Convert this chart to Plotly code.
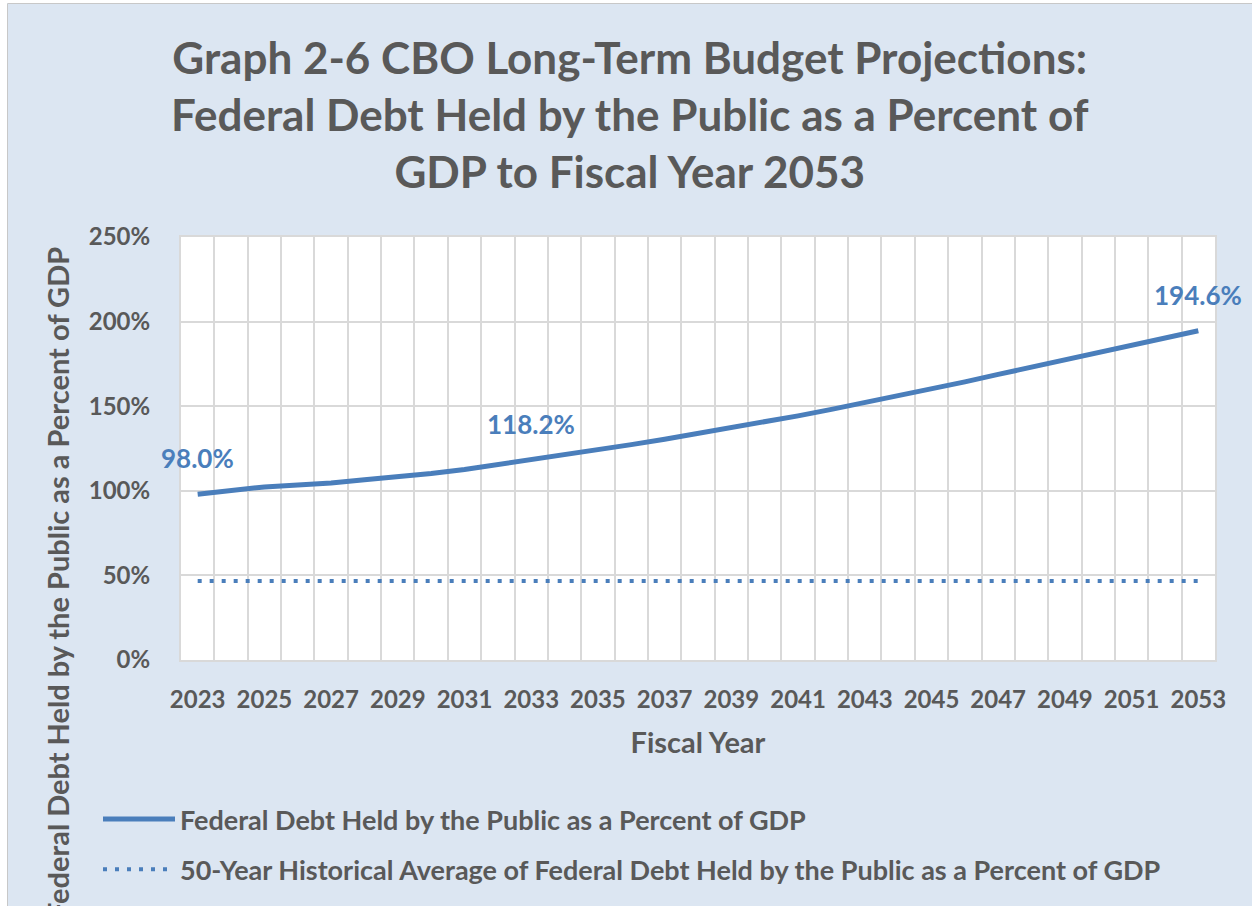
import plotly.graph_objects as go

# ---- data ----
years = list(range(2023, 2054))
debt_pct = [98.0, 100.4, 102.3, 103.5, 104.6, 106.5, 108.0, 110.2, 112.6, 115.4, 118.2,
            121.2, 124.2, 127.3, 130.5, 133.8, 137.2, 140.7, 144.3, 148.1, 152.0,
            156.0, 160.1, 164.4, 168.8, 173.2, 177.6, 181.9, 186.2, 190.4, 194.6]
hist_avg_value = 46.7
hist_avg_pct = [hist_avg_value] * len(years)
label_years = [2023, 2033, 2053]
tick_years = list(range(2023, 2054, 2))
y_ticks = [0, 50, 100, 150, 200, 250]

series_names = ["Federal Debt Held by the Public as a Percent of GDP",
                "50-Year Historical Average of Federal Debt Held by the Public as a Percent of GDP"]
title_text = ("Graph 2-6 CBO Long-Term Budget Projections:<br>"
              "Federal Debt Held by the Public as a Percent of<br>"
              "GDP to Fiscal Year 2053")
x_title = "Fiscal Year"
y_title = "Federal Debt Held by the Public as a Percent of GDP"

# ---- style ----
W, H = 1252, 906
ML, MR, MT, MB = 181, 37, 237, 246
BG = "#DCE6F2"
GRID = "#D9D9D9"
TXT = "#595959"
BLUE = "#4A7EBB"
FONT = "Lato"

PW = W - ML - MR
PH = H - MT - MB


def px2x(px):
    return (px - ML) / PW


def px2y(py):
    return (H - MB - py) / PH


fig = go.Figure()
fig.add_trace(go.Scatter(x=years, y=debt_pct, mode="lines", name=series_names[0],
                         legendgroup="a", line=dict(color=BLUE, width=5)))
fig.add_trace(go.Scatter(x=years, y=hist_avg_pct, mode="lines", name=series_names[1],
                         legendgroup="b", line=dict(color=BLUE, width=4, dash="4px,8px")))

# data labels
for yr in label_years:
    v = debt_pct[years.index(yr)]
    fig.add_annotation(x=yr, y=v, xref="x", yref="y", text=f"{v:.1f}%", showarrow=False,
                       yshift=36, font=dict(family=FONT, size=26, color=BLUE, weight=700))

# y axis title (extends beyond the canvas as in the reference)
fig.add_annotation(x=px2x(57), y=px2y(245), xref="paper", yref="paper", text=y_title,
                   textangle=-90, showarrow=False, xanchor="center", yanchor="top",
                   font=dict(family=FONT, size=29, color=TXT, weight=700))

# outer frame: white strip and thin gray border on top/left
fig.add_shape(type="rect", xref="paper", yref="paper", x0=px2x(-5), x1=px2x(7), y0=px2y(-5), y1=px2y(H + 5),
              fillcolor="white", line=dict(width=0))
fig.add_shape(type="rect", xref="paper", yref="paper", x0=px2x(-5), x1=px2x(W + 5), y0=px2y(-5), y1=px2y(3),
              fillcolor="white", line=dict(width=0))
fig.add_shape(type="line", xref="paper", yref="paper", x0=px2x(7.5), x1=px2x(7.5), y0=px2y(4), y1=px2y(H + 5),
              line=dict(color="#C8C8C8", width=1))
fig.add_shape(type="line", xref="paper", yref="paper", x0=px2x(7.5), x1=px2x(W + 5), y0=px2y(3.5), y1=px2y(3.5),
              line=dict(color="#C8C8C8", width=1))

fig.update_layout(
    width=W, height=H,
    margin=dict(l=ML, r=MR, t=MT, b=MB, autoexpand=False),
    paper_bgcolor=BG, plot_bgcolor="white",
    font=dict(family=FONT, color=TXT, weight=700),
    title=dict(text=title_text, x=0.503, xanchor="center", y=1 - 74 / H, yanchor="middle",
               font=dict(family=FONT, size=44, color=TXT, weight=700)),
    xaxis=dict(range=[2022.5, 2053.5], tickmode="array", tickvals=tick_years,
               ticktext=[str(t) for t in tick_years], showgrid=False,
               minor=dict(tick0=2022.5, dtick=1, showgrid=True, gridcolor=GRID, gridwidth=2),
               showline=True, linecolor=GRID, linewidth=2, mirror=True, ticks="",
               ticklabelstandoff=17,
               tickfont=dict(family=FONT, size=24, color=TXT, weight=700),
               title=dict(text=x_title, standoff=21,
                          font=dict(family=FONT, size=29, color=TXT, weight=700)),
               zeroline=False),
    yaxis=dict(range=[0, 250], tickmode="array", tickvals=y_ticks,
               ticktext=[f"{t}%" for t in y_ticks], showgrid=True, gridcolor=GRID, gridwidth=2,
               showline=True, linecolor=GRID, linewidth=2, mirror=True, ticks="",
               ticklabelstandoff=24, zeroline=False,
               tickfont=dict(family=FONT, size=24, color=TXT, weight=700)),
    showlegend=True,
    legend=dict(x=px2x(98), y=px2y(795), xanchor="left", yanchor="top",
                bgcolor="rgba(0,0,0,0)", font=dict(family=FONT, size=27, color=TXT, weight=700),
                itemwidth=72, tracegroupgap=12),
)

fig.write_html("out.html")
